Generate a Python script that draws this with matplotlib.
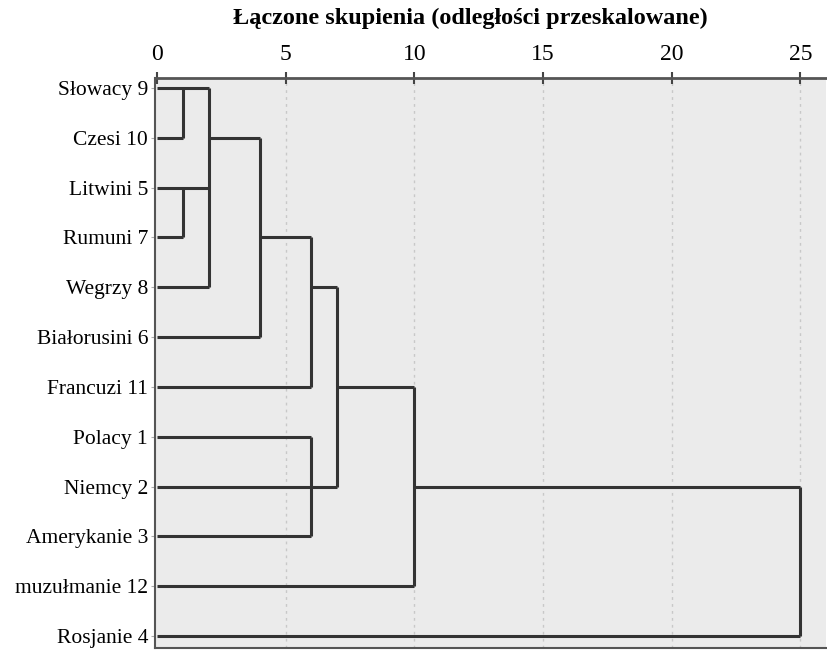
import matplotlib
matplotlib.use("Agg")
import matplotlib.pyplot as plt

# ---- data ----
leaf_labels = ["Słowacy 9", "Czesi 10", "Litwini 5", "Rumuni 7", "Wegrzy 8",
               "Białorusini 6", "Francuzi 11", "Polacy 1", "Niemcy 2",
               "Amerykanie 3", "muzułmanie 12", "Rosjanie 4"]
# distance where each leaf's horizontal line ends
leaf_join = [2, 1, 2, 1, 2, 4, 6, 6, 7, 6, 10, 25]
# merges (vertical connectors): distance, first row, last row
merge_dist = [1, 1, 2, 4, 6, 6, 7, 10, 25]
merge_top = [0, 2, 0, 1, 3, 7, 4, 6, 8]
merge_bottom = [1, 3, 4, 5, 6, 9, 8, 10, 11]
# links from merged clusters onward: row, from distance, to distance
link_row = [1, 3, 4, 6, 8]
link_from = [2, 4, 6, 7, 10]
link_to = [4, 6, 7, 10, 25]
x_ticks = [0, 5, 10, 15, 20, 25]
title = "Łączone skupienia (odległości przeskalowane)"

plt.rcParams['font.family'] = ['Liberation Serif', 'DejaVu Serif']

W, H = 828, 650
fig = plt.figure(figsize=(W / 100, H / 100), dpi=100)
ax = fig.add_axes([155 / W, 1 - 648 / H, (826 - 155) / W, (648 - 78) / H])
ax.set_facecolor("#ebebeb")

lc = "#333333"
lw = 2.2
rows = list(range(len(leaf_labels)))
ax.hlines(rows, 0, leaf_join, color=lc, lw=lw, zorder=3)
ax.vlines(merge_dist, merge_top, merge_bottom, color=lc, lw=lw, zorder=3)
ax.hlines(link_row, link_from, link_to, color=lc, lw=lw, zorder=3)

ax.set_xlim(-0.08, 26.0)
ax.set_ylim(11.24, -0.2)

# grid
for t in x_ticks[1:]:
    ax.axvline(t, color="#c8c8c8", lw=1.0, ls=(0, (2, 3)), zorder=1)

ax.xaxis.tick_top()
ax.set_xticks(x_ticks)
ax.set_xticklabels([str(t) for t in x_ticks], fontsize=17)
ax.tick_params(axis="x", direction="inout", length=8, width=1.5, color="#444444", pad=5)
ax.set_yticks(rows)
ax.set_yticklabels(leaf_labels, fontsize=15.5)
ax.tick_params(axis="y", length=3, width=0.8, color="#aaaaaa", pad=2)

for s in ["top", "left", "bottom"]:
    ax.spines[s].set_color("#555555")
ax.spines["top"].set_linewidth(2.0)
ax.spines["left"].set_linewidth(1.5)
ax.spines["bottom"].set_linewidth(1.5)
ax.spines["right"].set_visible(False)

fig.text(470 / W, 1 - 18 / H, title, fontsize=17.5, fontweight="bold",
         ha="center", va="center")

fig.savefig("out.png", dpi=100, facecolor="white")
